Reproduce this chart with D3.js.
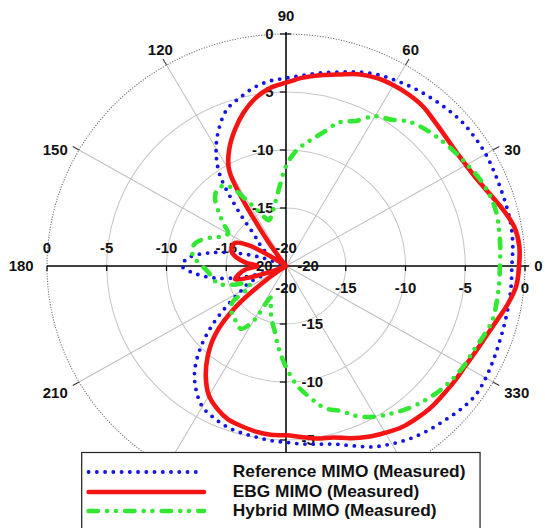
<!DOCTYPE html>
<html>
<head>
<meta charset="utf-8">
<script src="https://cdn.jsdelivr.net/npm/d3@7"></script>
<style>
  body { margin: 0; background: #fff; }
  svg { display: block; }
  text { font-family: "Liberation Sans", Arial, sans-serif; font-weight: bold; fill: #111; }
</style>
</head>
<body>
<svg id="chart" width="545" height="528"></svg>
<script>
// Measured radiation patterns (dB), sampled every 5 degrees from 0 to 355
const angles = d3.range(0, 360, 5);

const referenceMIMO = [
  -1.1, -0.95, -0.85, -0.84, -0.84, -0.78, -0.7, -0.7, -0.73, -0.9,
  -1.1, -1.3, -1.55, -1.8, -2.2, -2.7, -3.1, -3.5, -3.8, -4.0,
  -4.4, -5.0, -5.6, -6.8, -8.3, -10.3, -13.8, -16.3, -17.2, -18.0,
  -19.5, -20, -18.0, -15.7, -13.5, -11.8, -11.3, -12.4, -14.0, -16.3,
  -18.5, -16.6, -15.6, -13.9, -11.8, -9.8, -8.1, -6.9, -6.0, -5.6,
  -5.3, -5.15, -5.05, -4.9, -4.8, -4.6, -4.4, -4.1, -3.5, -2.8,
  -2.3, -1.85, -1.5, -1.2, -0.85, -0.62, -0.7, -0.85, -0.98, -1.05,
  -1.08, -1.08
];

const ebgMIMO = [
  -0.5, -0.4, -0.6, -1.2, -1.85, -2.35, -2.6, -2.7, -2.6, -2.4,
  -2.1, -2.0, -2.0, -2.1, -2.4, -2.9, -3.3, -3.7, -4.2, -4.6,
  -5.3, -6.3, -7.5, -8.8, -10.5, -17.0, -20, -20, -20, -19.5,
  -16.5, -15.3, -15.2, -15.3, -15.8, -16.6, -17.6, -16.6, -16.0, -15.6,
  -18.0, -20, -20, -18.5, -14.5, -11.6, -9.8, -8.3, -7.1, -6.4,
  -5.9, -5.7, -5.5, -5.4, -5.4, -5.2, -4.9, -4.7, -4.2, -3.75,
  -3.4, -3.05, -2.9, -2.8, -2.8, -2.75, -2.7, -2.5, -2.2, -1.75,
  -1.15, -0.65
];

const hybridMIMO = [
  -2.1, -2.0, -1.9, -1.8, -1.9, -2.15, -2.5, -2.8, -3.1, -3.4,
  -3.8, -4.6, -5.1, -6.2, -6.8, -8.1, -9.1, -10.0, -11.4, -13.3,
  -14.6, -15.4, -15.8, -15.0, -13.5, -11.6, -11.2, -11.6, -12.6, -13.6,
  -14.4, -14.0, -13.0, -12.2, -12.0, -12.3, -13.0, -13.5, -13.8, -14.1,
  -15.3, -16.5, -16.5, -14.5, -14.0, -13.8, -13.6, -13.4, -14.5, -17.0,
  -16.3, -15.3, -14.4, -12.9, -11.3, -9.7, -8.5, -7.3, -6.7, -5.7,
  -5.0, -4.5, -4.0, -3.6, -3.25, -3.0, -2.8, -2.7, -2.4, -2.1,
  -2.1, -2.1
];

const ringTicks = [-20, -15, -10, -5, 0];
const angleTicks = [0, 30, 60, 90, 120, 150, 180, 210, 240, 270, 300, 330];
// angle labels that sit beneath the legend box are left out
const labelledAngles = [0, 30, 60, 90, 120, 150, 180, 210, 330];
const seriesNames = ["Reference MIMO (Measured)", "EBG MIMO (Measured)", "Hybrid MIMO (Measured)"];
const seriesColors = ["#1414e6", "#f51414", "#33e833"];

// ---- layout ----
const sx = 239 / 232;           // plot is slightly wider than tall
const R = 232;
const cx = 286 / sx, cy = 266;

const svg = d3.select("#chart");
const root = svg.append("g").attr("transform", `scale(${sx},1)`);
const plot = root.append("g").attr("transform", `translate(${cx},${cy})`);

const r = d3.scaleLinear().domain([-20, 0]).range([0, R]).clamp(true);
const rad = a => a * Math.PI / 180;
const pt = (a, rr) => [rr * Math.cos(rad(a)), -rr * Math.sin(rad(a))];

// ---- grid ----
const grid = plot.append("g");
ringTicks.filter(t => t > -20 && t < 0).forEach(t => {
  grid.append("circle").attr("r", r(t))
    .attr("fill", "none").attr("stroke", "#c6c6c6").attr("stroke-width", 1);
});
grid.append("circle").attr("r", r(0))
  .attr("fill", "none").attr("stroke", "#6f6f6f").attr("stroke-width", 1)
  .attr("stroke-dasharray", "1.2 1.4");

angleTicks.filter(a => a % 90 !== 0).forEach(a => {
  const [x1, y1] = pt(a, r(0));
  grid.append("line").attr("x1", 0).attr("y1", 0).attr("x2", x1).attr("y2", y1)
    .attr("stroke", "#c0c0c0").attr("stroke-width", 1);
  const [x2, y2] = pt(a, r(0) + 7);
  grid.append("line").attr("x1", x1).attr("y1", y1).attr("x2", x2).attr("y2", y2)
    .attr("stroke", "#333").attr("stroke-width", 1);
});

// main axes
grid.append("line").attr("x1", -R).attr("x2", R + 4).attr("y1", 0).attr("y2", 0)
  .attr("stroke", "#000").attr("stroke-width", 1.5);
grid.append("line").attr("x1", 0).attr("x2", 0).attr("y1", -R - 2).attr("y2", R)
  .attr("stroke", "#000").attr("stroke-width", 1.5);

ringTicks.filter(t => t > -20).forEach(t => {
  const d = r(t);
  [d, -d].forEach(x => grid.append("line").attr("x1", x).attr("x2", x)
    .attr("y1", 0).attr("y2", 5).attr("stroke", "#000").attr("stroke-width", 1.2));
  [d, -d].forEach(y => grid.append("line").attr("x1", -6).attr("x2", 0)
    .attr("y1", y).attr("y2", y).attr("stroke", "#000").attr("stroke-width", 1.2));
});
grid.append("line").attr("x1", 0).attr("x2", 5).attr("y1", -R).attr("y2", -R)
  .attr("stroke", "#000").attr("stroke-width", 1.2);

// ---- radial tick labels on the four axes ----
const labels = plot.append("g").style("font-size", "14.5px").attr("dominant-baseline", "central");
ringTicks.forEach(t => {
  const d = r(t);
  if (t === -20) {
    labels.append("text").attr("x", 11).attr("y", 0).attr("text-anchor", "start").text(t);
    labels.append("text").attr("x", -13).attr("y", 0).attr("text-anchor", "end").text(t);
    labels.append("text").attr("x", 0).attr("y", -18).attr("text-anchor", "middle").text(t);
    labels.append("text").attr("x", 0).attr("y", 22).attr("text-anchor", "middle").text(t);
  } else {
    labels.append("text").attr("x", d).attr("y", 22).attr("text-anchor", "middle").text(t);
    labels.append("text").attr("x", -d).attr("y", -18).attr("text-anchor", "middle").text(t);
    labels.append("text").attr("x", -12).attr("y", -d).attr("text-anchor", "end").text(t);
    if (d < 180) labels.append("text").attr("x", 15).attr("y", d).attr("text-anchor", "start").text(t);
  }
});

// ---- angle labels ----
const alab = plot.append("g").style("font-size", "14.5px").attr("dominant-baseline", "central");
labelledAngles.forEach(a => {
  const c = Math.cos(rad(a)), s = Math.sin(rad(a));
  let x, y, anchor;
  if (a === 0) { x = R + 9; y = 0; anchor = "start"; }
  else if (a === 180) { x = -R - 13; y = 0; anchor = "end"; }
  else if (a === 90) { x = 0; y = -R - 18; anchor = "middle"; }
  else if (Math.abs(c) > 0.8) {
    x = R * c + (c > 0 ? 11 : -11); y = -R * s + (s < 0 ? 11 : 0);
    anchor = c > 0 ? "start" : "end";
  } else {
    x = R * c + (c > 0 ? 5 : -6); y = -R * s + (s > 0 ? -15 : 15);
    anchor = "middle";
  }
  alab.append("text").attr("x", x).attr("y", y).attr("text-anchor", anchor).text(a);
});

// ---- pattern curves ----
const line = d3.lineRadial()
  .angle(d => Math.PI / 2 - rad(d.a))
  .radius(d => r(d.v))
  .curve(d3.curveCatmullRomClosed.alpha(0.5));

const styles = [
  { w: 3.8, dash: "0 8" },
  { w: 4.5, dash: null },
  { w: 4.5, dash: "9 9 0 8.5 0 9" }
];
const seriesValues = [referenceMIMO, ebgMIMO, hybridMIMO];

const curves = plot.append("g");
seriesValues.forEach((vals, i) => {
  const pts = angles.map((a, k) => ({ a, v: vals[k] }));
  curves.append("path").attr("d", line(pts))
    .attr("fill", "none").attr("stroke", seriesColors[i])
    .attr("stroke-width", styles[i].w)
    .attr("stroke-linecap", "round").attr("stroke-linejoin", "round")
    .attr("stroke-dasharray", styles[i].dash);
});

// ---- legend ----
const lg = root.append("g");
lg.append("rect").attr("x", 79.3).attr("y", 452.5).attr("width", 386.7).attr("height", 90)
  .attr("fill", "#fff").attr("stroke", "#222").attr("stroke-width", 1.2);
const rowsY = [472, 492, 511];
seriesNames.forEach((name, i) => {
  lg.append("line").attr("x1", 86).attr("x2", 198).attr("y1", rowsY[i]).attr("y2", rowsY[i])
    .attr("stroke", seriesColors[i]).attr("stroke-width", styles[i].w)
    .attr("stroke-linecap", "round").attr("stroke-dasharray", styles[i].dash);
  lg.append("text").attr("x", 226).attr("y", rowsY[i]).attr("dominant-baseline", "central")
    .style("font-size", "16.8px").text(name);
});
</script>
</body>
</html>
